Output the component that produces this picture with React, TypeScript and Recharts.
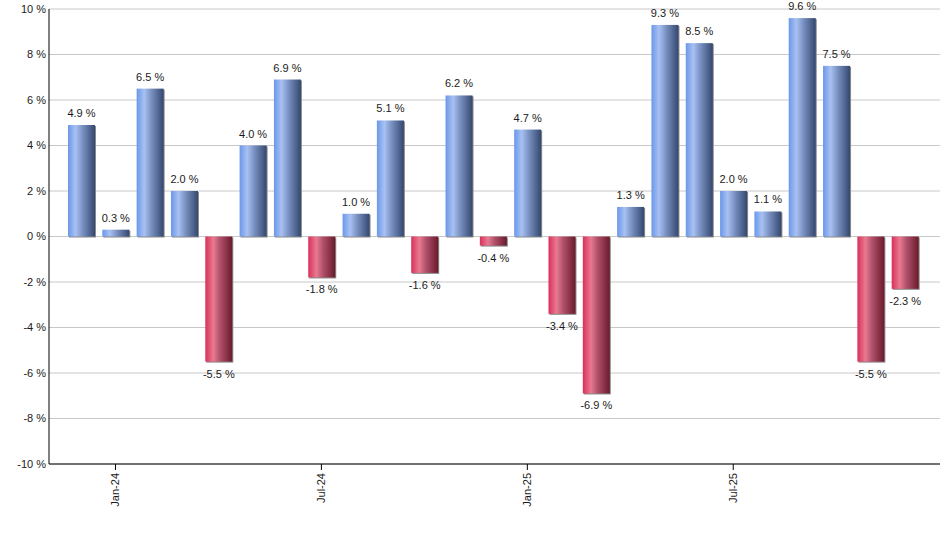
import React from "react";
import {
  BarChart,
  Bar,
  XAxis,
  YAxis,
  CartesianGrid,
  LabelList,
} from "recharts";

// monthly returns, Dec-23 .. Dec-25
const MONTHS = [
  "Dec-23", "Jan-24", "Feb-24", "Mar-24", "Apr-24", "May-24", "Jun-24",
  "Jul-24", "Aug-24", "Sep-24", "Oct-24", "Nov-24", "Dec-24",
  "Jan-25", "Feb-25", "Mar-25", "Apr-25", "May-25", "Jun-25",
  "Jul-25", "Aug-25", "Sep-25", "Oct-25", "Nov-25", "Dec-25",
];

const RETURNS = [
  4.9, 0.3, 6.5, 2.0, -5.5, 4.0, 6.9,
  -1.8, 1.0, 5.1, -1.6, 6.2, -0.4,
  4.7, -3.4, -6.9, 1.3, 9.3, 8.5,
  2.0, 1.1, 9.6, 7.5, -5.5, -2.3,
];

const Y_TICKS = [-10, -8, -6, -4, -2, 0, 2, 4, 6, 8, 10];
const LABELED_MONTHS = ["Jan-24", "Jul-24", "Jan-25", "Jul-25"];

const FONT = "'Liberation Sans', Arial, sans-serif";

const data = MONTHS.map((m, i) => ({ month: m, v: RETURNS[i] }));

function GradientBar(props: any) {
  const { x, y, width, height, payload } = props;
  if (width == null || height == null) return null;
  const top = Math.min(y, y + height);
  const h = Math.abs(height);
  const neg = payload && payload.v < 0;
  return (
    <g>
      <rect x={x + 1} y={top + 1} width={width} height={h} fill="#8a8a8a" />
      <rect x={x} y={top} width={width} height={h} fill={neg ? "url(#gradRed)" : "url(#gradBlue)"} />
    </g>
  );
}

function ValueLabel(props: any) {
  const { x, y, width, height, value } = props;
  const v = Number(value);
  const top = Math.min(y, y + height);
  const bottom = Math.max(y, y + height);
  const ty = v >= 0 ? top - 8 : bottom + 16;
  return (
    <text
      x={x + width / 2}
      y={ty}
      textAnchor="middle"
      fontSize={11}
      fontFamily={FONT}
      fill="#1a1a1a"
    >
      {`${v.toFixed(1)} %`}
    </text>
  );
}

function MonthTick(props: any) {
  const { x, y, payload } = props;
  if (!LABELED_MONTHS.includes(payload.value)) return null;
  return (
    <g>
      <line x1={x} y1={y} x2={x} y2={y + 6} stroke="#000" />
      <text
        transform={`translate(${x + 4},${y + 9}) rotate(-90)`}
        textAnchor="end"
        fontSize={11}
        fontFamily={FONT}
        fill="#1a1a1a"
      >
        {payload.value}
      </text>
    </g>
  );
}

export default function App() {
  return (
    <div style={{ position: "absolute", left: 0, top: 0, background: "#fff" }}>
      <BarChart
        width={940}
        height={550}
        data={data}
        margin={{ top: 9, right: 0, bottom: 0, left: 0 }}
        barSize={27}
      >
        <defs>
          <linearGradient id="gradBlue" x1="0" y1="0" x2="1" y2="0">
            <stop offset="0%" stopColor="#6b97ea" />
            <stop offset="28%" stopColor="#a8c1f2" />
            <stop offset="55%" stopColor="#7890c0" />
            <stop offset="100%" stopColor="#34476f" />
          </linearGradient>
          <linearGradient id="gradRed" x1="0" y1="0" x2="1" y2="0">
            <stop offset="0%" stopColor="#d9305a" />
            <stop offset="30%" stopColor="#e87a90" />
            <stop offset="55%" stopColor="#b0506a" />
            <stop offset="100%" stopColor="#6a1a2c" />
          </linearGradient>
        </defs>
        <CartesianGrid vertical={false} stroke="#c8c8c8" />
        <XAxis
          dataKey="month"
          interval={0}
          height={86}
          padding={{ left: 15, right: 18 }}
          axisLine={{ stroke: "#000" }}
          tickLine={false}
          tickSize={0}
          tickMargin={0}
          tick={<MonthTick />}
        />
        <YAxis
          domain={[-10, 10]}
          ticks={Y_TICKS}
          width={49}
          axisLine={{ stroke: "#000" }}
          tickLine={false}
          tickSize={3}
          tickMargin={0}
          tickFormatter={(t: number) => `${t} %`}
          tick={{ fontSize: 11, fontFamily: FONT, fill: "#1a1a1a" }}
          allowDataOverflow
        />
        <Bar dataKey="v" isAnimationActive={false} shape={<GradientBar />}>
          <LabelList dataKey="v" content={<ValueLabel />} />
        </Bar>
      </BarChart>
    </div>
  );
}
